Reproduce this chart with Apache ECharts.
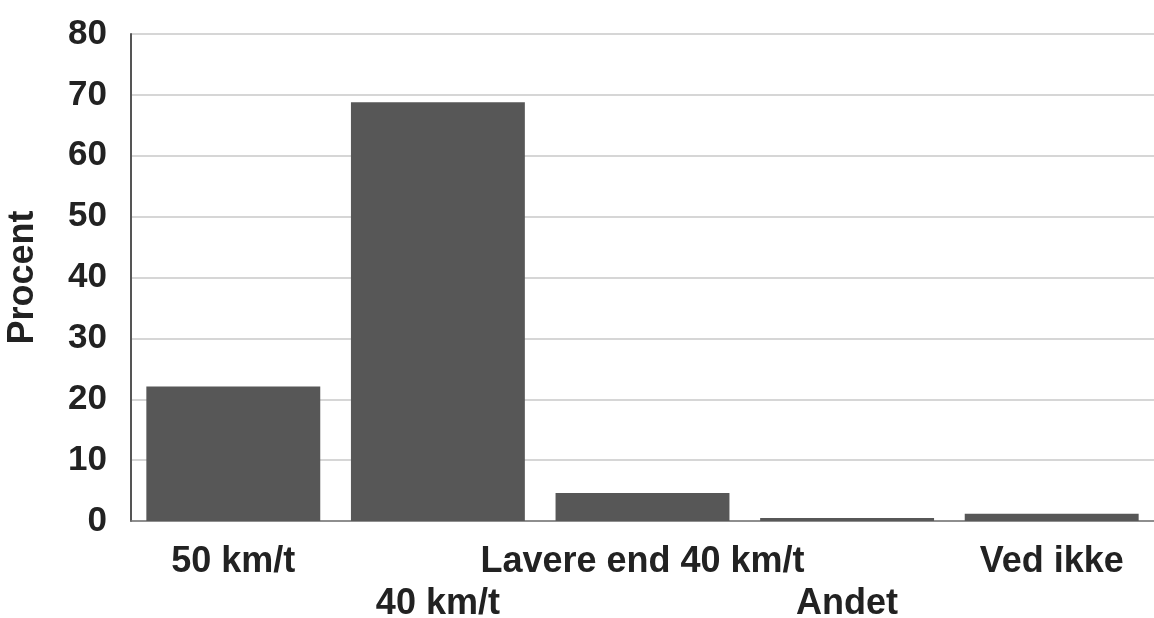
<!DOCTYPE html>
<html>
<head>
<meta charset="utf-8">
<script src="https://cdn.jsdelivr.net/npm/echarts@6/dist/echarts.min.js"></script>
<style>
html,body{margin:0;padding:0;background:#fff;}
#c{width:1154px;height:618px;}
</style>
</head>
<body>
<div id="c"></div>
<script>
const categories = ["50 km/t", "40 km/t", "Lavere end 40 km/t", "Andet", "Ved ikke"];
const values = [22.1, 68.8, 4.6, 0.5, 1.2];
const yTicks = { min: 0, max: 80, interval: 10 };
const yName = "Procent";

const chart = echarts.init(document.getElementById('c'));
chart.setOption({
  animation: false,
  grid: { left: 131, right: 0, top: 34, bottom: 97, containLabel: false, outerBoundsMode: 'none' },
  xAxis: {
    type: 'category',
    data: categories,
    axisLine: { show: true, lineStyle: { color: '#777', width: 1.5 } },
    axisTick: { show: false },
    axisLabel: {
      interval: 0,
      margin: 20,
      fontFamily: 'Liberation Sans, Arial, sans-serif',
      fontWeight: 'bold',
      fontSize: 36,
      color: '#222',
      lineHeight: 42,
      hideOverlap: false,
      formatter: function (v, i) { return i % 2 === 1 ? '\n' + v : v; }
    }
  },
  yAxis: {
    type: 'value',
    min: yTicks.min, max: yTicks.max, interval: yTicks.interval,
    name: yName,
    nameLocation: 'middle',
    nameGap: 90,
    nameTextStyle: { fontFamily: 'Liberation Sans, Arial, sans-serif', fontWeight: 'bold', fontSize: 36, color: '#222' },
    axisLine: { show: true, lineStyle: { color: '#555', width: 2 } },
    axisTick: { show: false },
    splitLine: { lineStyle: { color: '#c8c8c8', width: 1.5 } },
    axisLabel: {
      margin: 24,
      fontFamily: 'Liberation Sans, Arial, sans-serif',
      fontWeight: 'bold',
      fontSize: 35,
      color: '#222',
      padding: [0, 0, 8, 0]
    }
  },
  series: [{
    type: 'bar',
    data: values,
    barWidth: '85%',
    itemStyle: { color: '#575757' }
  }]
});
</script>
</body>
</html>
